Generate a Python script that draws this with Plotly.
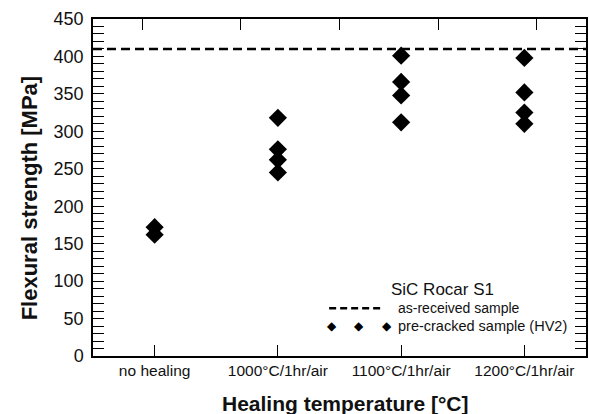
import plotly.graph_objects as go

# ---- data ----
categories = ["no healing", "1000°C/1hr/air", "1100°C/1hr/air", "1200°C/1hr/air"]
cat_pos = [1, 2, 3, 4]
strength_no_healing = [172, 162]
strength_1000 = [318, 276, 262, 245]
strength_1100 = [401, 366, 348, 312]
strength_1200 = [398, 352, 325, 310]
as_received = 410
y_ticks = [0, 50, 100, 150, 200, 250, 300, 350, 400, 450]

groups = [strength_no_healing, strength_1000, strength_1100, strength_1200]
xs, ys = [], []
for p, g in zip(cat_pos, groups):
    xs += [p] * len(g)
    ys += g

FONT = "Liberation Sans, Arial, sans-serif"

fig = go.Figure()
fig.add_trace(go.Scatter(
    x=xs, y=ys, mode="markers",
    marker=dict(symbol="diamond", size=14, color="black"),
    showlegend=False, hoverinfo="skip"))
# invisible trace to activate top axis
fig.add_trace(go.Scatter(x=[1], y=[0], xaxis="x2", mode="markers",
                         marker=dict(opacity=0), showlegend=False, hoverinfo="skip"))

fig.add_shape(type="line", xref="paper", yref="y", x0=0, x1=1,
              y0=as_received, y1=as_received,
              line=dict(color="black", width=2.5, dash="9px,5px"))

fig.update_layout(
    width=589, height=414,
    margin=dict(l=93, r=1, t=19, b=58),
    paper_bgcolor="white", plot_bgcolor="white",
    font=dict(family=FONT, color="black"),
    xaxis=dict(range=[0.5, 4.5], tickvals=cat_pos, ticktext=categories,
               ticks="inside", ticklen=11, tickwidth=1.3, tickcolor="black",
               showline=True, linecolor="black", linewidth=1.5, mirror=True,
               showgrid=False, zeroline=False,
               tickfont=dict(size=15.5, family=FONT, color="#111")),
    xaxis2=dict(range=[0.5, 5.5], overlaying="x", side="top",
                tickvals=[1, 2, 3, 4, 5], showticklabels=False,
                ticks="inside", ticklen=11, tickwidth=1.3, tickcolor="black",
                showgrid=False, zeroline=False, showline=False),
    yaxis=dict(range=[0, 450], tickvals=y_ticks,
               ticks="inside", ticklen=11, tickwidth=1.3, tickcolor="black",
               minor=dict(ticks="inside", ticklen=6, dtick=10, tickwidth=1.1,
                          tickcolor="black", showgrid=False),
               showline=True, linecolor="black", linewidth=1.5, mirror="allticks",
               showgrid=False, zeroline=False, ticklabelstandoff=4,
               tickfont=dict(size=18, family=FONT, color="#111")),
)

ann = [
    dict(text="<b>Flexural strength [MPa]</b>", x=-0.127, y=0.469, xref="paper", yref="paper",
         textangle=-90, showarrow=False, font=dict(size=22, family=FONT, color="#111"),
         xanchor="center", yanchor="middle"),
    dict(text="<b>Healing temperature [°C]</b>", x=0.511, y=-0.142, xref="paper", yref="paper",
         showarrow=False, font=dict(size=21, family=FONT, color="#111"),
         xanchor="center", yanchor="middle"),
    dict(text="SiC Rocar S1", x=0.709, y=0.196, xref="paper", yref="paper",
         showarrow=False, font=dict(size=17, family=FONT, color="#111"),
         xanchor="center", yanchor="middle"),
    dict(text="as-received sample", x=0.614, y=0.142, xref="paper", yref="paper",
         showarrow=False, font=dict(size=14, family=FONT, color="#111"),
         xanchor="left", yanchor="middle"),
    dict(text="pre-cracked sample (HV2)", x=0.614, y=0.089, xref="paper", yref="paper",
         showarrow=False, font=dict(size=14.5, family=FONT, color="#111"),
         xanchor="left", yanchor="middle"),
]
for xp in [0.485, 0.540, 0.596]:
    ann.append(dict(text="◆", x=xp, y=0.089, xref="paper", yref="paper", showarrow=False,
                    font=dict(size=12, family="DejaVu Sans", color="black"),
                    xanchor="center", yanchor="middle"))
fig.update_layout(annotations=ann)

fig.add_shape(type="line", xref="paper", yref="paper", x0=0.479, x1=0.586,
              y0=0.142, y1=0.142, line=dict(color="black", width=2.5, dash="7px,4px"))

fig.write_html("out.html")
